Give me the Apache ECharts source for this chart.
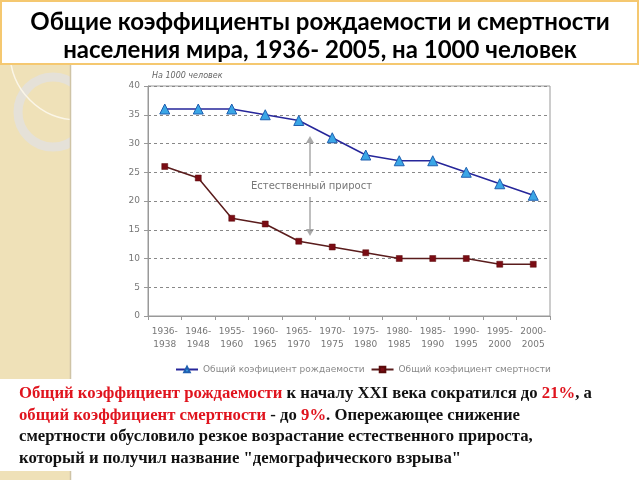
<!DOCTYPE html>
<html><head><meta charset="utf-8">
<script src="https://cdn.jsdelivr.net/npm/echarts@6/dist/echarts.min.js"></script>
<style>html,body{margin:0;padding:0;background:#fff}#c{width:640px;height:480px}</style>
</head><body><div id="c"></div>
<script>
const categories = ['1936-\n1938','1946-\n1948','1955-\n1960','1960-\n1965','1965-\n1970','1970-\n1975','1975-\n1980','1980-\n1985','1985-\n1990','1990-\n1995','1995-\n2000','2000-\n2005'];
const birthRate = [36,36,36,35,34,31,28,27,27,25,23,21];
const deathRate = [26,24,17,16,13,12,11,10,10,10,9,9];
const birthName = 'Общий коэфициент рождаемости';
const deathName = 'Общий коэфициент смертности';

const chart = echarts.init(document.getElementById('c'), null, {renderer:'canvas'});
const lab = {fontFamily:'DejaVu Sans', fontSize:9, color:'#777'};
chart.setOption({
  backgroundColor:'#fff',
  animation:false,
  title:{
    text:'Общие коэффициенты рождаемости и смертности\nнаселения мира, 1936- 2005, на 1000 человек',
    left:'center', top:3,
    textStyle:{fontFamily:'Lato', fontWeight:'bold', fontSize:24, lineHeight:28, color:'#000'}
  },
  grid:{left:148, top:86, right:90, bottom:164, show:true, borderColor:'#999', borderWidth:1, backgroundColor:'transparent'},
  legend:{
    top:360, left:170, itemWidth:22, itemHeight:7, itemGap:6,
    textStyle:{fontFamily:'DejaVu Sans', fontSize:9, color:'#888'},
    data:[birthName, deathName]
  },
  xAxis:{
    type:'category', data:categories, boundaryGap:true,
    axisLine:{lineStyle:{color:'#999'}},
    axisTick:{show:true, length:4, lineStyle:{color:'#999'}},
    axisLabel:Object.assign({interval:0, lineHeight:13, margin:9}, lab),
    splitLine:{show:false}
  },
  yAxis:{
    type:'value', min:0, max:40, interval:5,
    axisLine:{show:true, lineStyle:{color:'#999'}},
    axisTick:{show:true, length:4, lineStyle:{color:'#999'}},
    axisLabel:Object.assign({margin:8}, lab),
    splitLine:{show:true, lineStyle:{color:'#888', type:[3,3], width:1}}
  },
  series:[
    {name:birthName, type:'line', data:birthRate, symbol:'triangle', symbolSize:10,
     lineStyle:{color:'#26269a', width:1.5}, itemStyle:{color:'#3aa6e6', borderColor:'#1f5fb0', borderWidth:1}},
    {name:deathName, type:'line', data:deathRate, symbol:'rect', symbolSize:6,
     lineStyle:{color:'#5a1c1c', width:1.5}, itemStyle:{color:'#7a0c14', borderColor:'#5a0a0a', borderWidth:0.5}}
  ],
  graphic:[
    {type:'rect', z:-10, silent:true, shape:{x:0,y:64,width:72,height:416}, style:{fill:'#efe1b8'}},
    {type:'circle', z:-9, silent:true, shape:{cx:53,cy:112,r:35}, style:{fill:'none', stroke:'#e5e1d8', lineWidth:9}},
    {type:'circle', z:-9, silent:true, shape:{cx:78,cy:52,r:68}, style:{fill:'none', stroke:'#fbf6e8', lineWidth:1.5}},
    {type:'rect', z:-7, silent:true, shape:{x:71,y:64,width:569,height:416}, style:{fill:'#fff'}},
    {type:'line', z:-6, silent:true, shape:{x1:70.5,y1:64,x2:70.5,y2:480}, style:{stroke:'#cfc4a6', lineWidth:1.5}},
    {type:'rect', z:-5, silent:true, shape:{x:0,y:379,width:640,height:92}, style:{fill:'#fff'}},
    {type:'rect', z:-5, silent:true, shape:{x:1,y:1,width:637,height:63}, style:{fill:'#fff', stroke:'#f5c870', lineWidth:2}},
    {type:'text', left:152, top:72, style:{text:'На 1000 человек', fontFamily:'DejaVu Sans', fontSize:8, fontStyle:'italic', fill:'#666'}},
    {type:'text', left:251, top:181, style:{text:'Естественный прирост', fontFamily:'DejaVu Sans', fontSize:10, fill:'#777'}},
    {type:'line', shape:{x1:310,y1:140,x2:310,y2:176}, style:{stroke:'#aaa', lineWidth:1.5}},
    {type:'line', shape:{x1:310,y1:197,x2:310,y2:232}, style:{stroke:'#aaa', lineWidth:1.5}},
    {type:'polygon', shape:{points:[[306,143],[314,143],[310,136]]}, style:{fill:'#aaa'}},
    {type:'polygon', shape:{points:[[306,229],[314,229],[310,236]]}, style:{fill:'#aaa'}},
    {type:'text', left:19, top:385, style:{
      text:'{r|Общий коэффициент рождаемости}{b| к началу XXI века сократился до }{r|21%}{b|, а}\n{r|общий коэффициент смертности}{b| - до }{r|9%}{b|. Опережающее снижение}\n{b|смертности обусловило резкое возрастание естественного прироста,}\n{b|который и получил название "демографического взрыва"}',
      rich:{
        r:{fontFamily:'Liberation Serif', fontWeight:'bold', fontSize:16.7, fill:'#e0141e', lineHeight:21.7},
        b:{fontFamily:'Liberation Serif', fontWeight:'bold', fontSize:16.7, fill:'#111', lineHeight:21.7}
      }
    }}
  ]
});
</script></body></html>
